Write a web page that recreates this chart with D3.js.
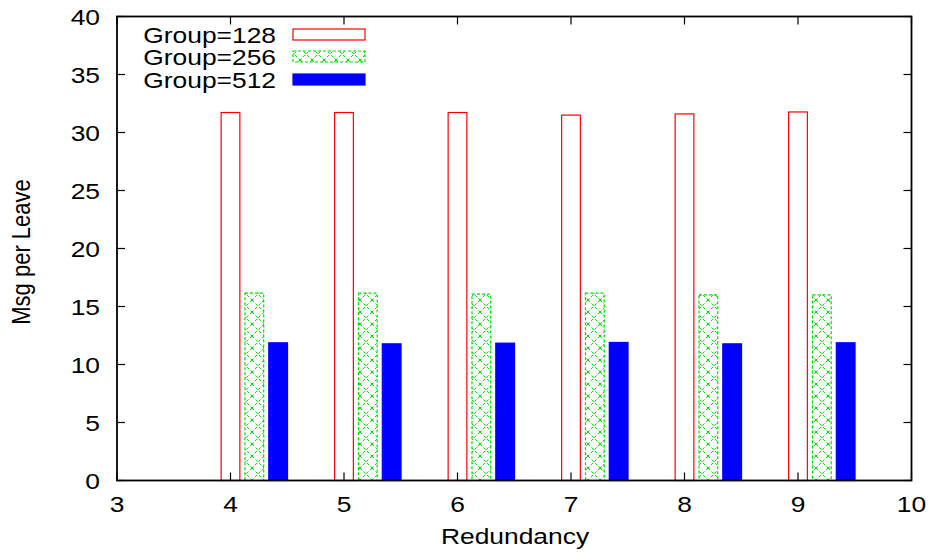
<!DOCTYPE html>
<html>
<head>
<meta charset="utf-8">
<script src="https://cdn.jsdelivr.net/npm/d3@7"></script>
<style>
  body { margin: 0; background: #fff; }
  text { font-family: "Liberation Sans", Arial, sans-serif; fill: #000; font-size: 22px; }
</style>
</head>
<body>
<div id="chart"></div>
<script>
// Data
const redundancy = [4, 5, 6, 7, 8, 9];
const group128 = [31.72, 31.72, 31.72, 31.5, 31.6, 31.77];
const group256 = [16.15, 16.15, 16.06, 16.15, 16.0, 16.0];
const group512 = [11.87, 11.78, 11.84, 11.9, 11.78, 11.87];
const seriesNames = ["Group=128", "Group=256", "Group=512"];
const xTicks = [3, 4, 5, 6, 7, 8, 9, 10];
const yTicks = [0, 5, 10, 15, 20, 25, 30, 35, 40];

const W = 933, H = 554;
const plot = { left: 117, right: 911.5, top: 16.5, bottom: 480.5 };
const stretch = 1.2; // labels are drawn a bit wide

const svg = d3.select("#chart")
  .append("svg")
  .attr("width", W)
  .attr("height", H);

const x = d3.scaleLinear().domain([3, 10]).range([plot.left, plot.right]);
const y = d3.scaleLinear().domain([0, 40]).range([plot.bottom, plot.top]);

// place a horizontally stretched label
function label(g, tx, ty, anchor, str) {
  return g.append("text")
    .attr("transform", "translate(" + tx + "," + ty + ") scale(" + stretch + ",1)")
    .attr("text-anchor", anchor)
    .text(str);
}

// crosshatch fill for the middle series
const defs = svg.append("defs");
const pat = defs.append("pattern")
  .attr("id", "hatch")
  .attr("patternUnits", "userSpaceOnUse")
  .attr("width", 12)
  .attr("height", 12);
pat.append("path")
  .attr("d", "M0,0L12,12M12,0L0,12")
  .attr("stroke", "#00e000")
  .attr("stroke-width", 1)
  .attr("stroke-dasharray", "3,2")
  .attr("fill", "none");

const barW = 0.165;
const offsets = [0, 0.21, 0.42];
const styles = [
  { fill: "#fff", stroke: "#ff0000", dash: null },
  { fill: "url(#hatch)", stroke: "#00e000", dash: "3,2" },
  { fill: "#0000ff", stroke: "#0000ff", dash: null }
];
const series = [group128, group256, group512];

series.forEach(function(vals, s) {
  svg.append("g").selectAll("rect")
    .data(vals)
    .enter().append("rect")
    .attr("x", function(d, i) { return x(redundancy[i] + offsets[s] - barW / 2); })
    .attr("y", function(d) { return y(d); })
    .attr("width", x(3 + barW) - x(3))
    .attr("height", function(d) { return y(0) - y(d); })
    .attr("fill", styles[s].fill)
    .attr("stroke", styles[s].stroke)
    .attr("stroke-width", 1.2)
    .attr("stroke-dasharray", styles[s].dash);
});

// ticks on all four sides, pointing inward
const tickLen = 8;
const ticks = svg.append("g").attr("stroke", "#000").attr("stroke-width", 1.2);
yTicks.forEach(function(t) {
  ticks.append("line").attr("x1", plot.left).attr("x2", plot.left + tickLen).attr("y1", y(t)).attr("y2", y(t));
  ticks.append("line").attr("x1", plot.right).attr("x2", plot.right - tickLen).attr("y1", y(t)).attr("y2", y(t));
});
xTicks.forEach(function(t) {
  ticks.append("line").attr("x1", x(t)).attr("x2", x(t)).attr("y1", plot.top).attr("y2", plot.top + tickLen);
  ticks.append("line").attr("x1", x(t)).attr("x2", x(t)).attr("y1", plot.bottom).attr("y2", plot.bottom - tickLen);
});

// frame
svg.append("rect")
  .attr("x", plot.left).attr("y", plot.top)
  .attr("width", plot.right - plot.left).attr("height", plot.bottom - plot.top)
  .attr("fill", "none")
  .attr("stroke", "#000")
  .attr("stroke-width", 1.8);

// tick labels
const yLab = svg.append("g");
yTicks.forEach(function(t) { label(yLab, 100, y(t) + 8, "end", t); });

const xLab = svg.append("g");
xTicks.forEach(function(t) { label(xLab, x(t), 512, "middle", t); });

// axis titles
label(svg, 515, 544, "middle", "Redundancy");

svg.append("text")
  .attr("transform", "translate(30,252) rotate(-90) scale(1," + stretch + ")")
  .attr("text-anchor", "middle")
  .text("Msg per Leave");

// legend
const legendY = [35, 57, 80];
const legend = svg.append("g");
seriesNames.forEach(function(name, s) {
  label(legend, 276, legendY[s] + 8, "end", name);
  legend.append("rect")
    .attr("x", 293)
    .attr("y", legendY[s] - 6)
    .attr("width", 72)
    .attr("height", 11)
    .attr("fill", styles[s].fill)
    .attr("stroke", styles[s].stroke)
    .attr("stroke-width", 1.2)
    .attr("stroke-dasharray", styles[s].dash);
});
</script>
</body>
</html>
